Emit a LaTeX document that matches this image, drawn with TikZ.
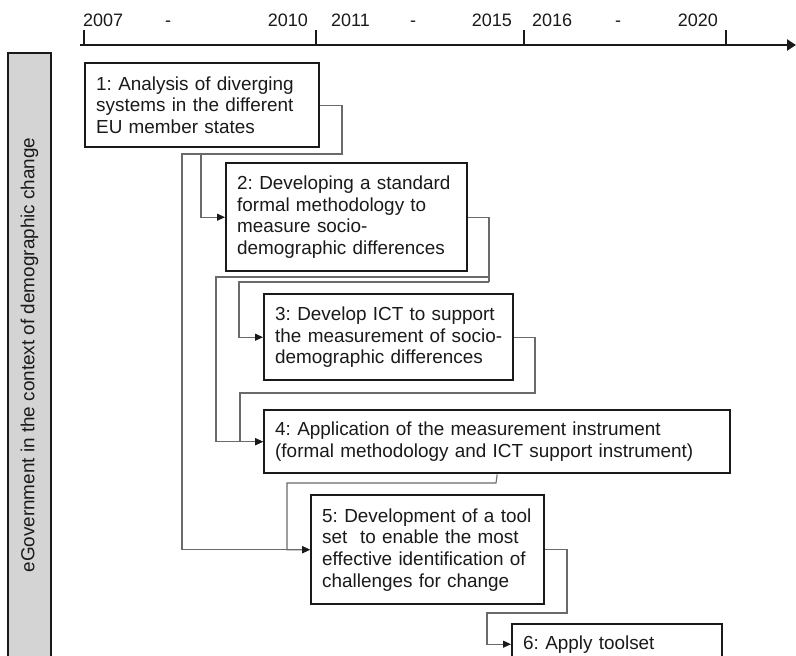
\documentclass[tikz,border=0pt]{standalone}
\usepackage{fontspec}
\setmainfont{Liberation Sans}
\usetikzlibrary{arrows.meta}
\definecolor{ink}{HTML}{1A1A1A}
\definecolor{wire}{HTML}{6A6A6A}
\definecolor{barfill}{HTML}{D4D4D4}
\begin{document}
\frenchspacing
\begin{tikzpicture}[x=1pt,y=-1pt,
  every node/.style={text=ink},
  boxfont/.style={font=\fontsize{18.9}{21.7}\selectfont},
  yearfont/.style={font=\fontsize{18}{20}\selectfont},
  taskbox/.style={boxfont, draw=ink, line width=2.4pt, fill=white,
    anchor=north west, inner xsep=11pt, inner ysep=0pt, align=left},
  conn/.style={draw=wire, line width=1.1pt,
    -{Triangle[length=8pt,width=7pt,color=ink]}},
  plainconn/.style={draw=wire, line width=1.1pt},
  tick/.style={draw=ink, line width=1.6pt},
  yearlabel/.style={yearfont, inner sep=0pt}]

\useasboundingbox (0,0) rectangle (796,656);
\clip (0,0) rectangle (796,656);
\fill[white] (0,0) rectangle (796,656);

% time axis with period ticks
\coordinate (axstart) at (80,45);
\coordinate (axend) at (796,45);
\draw[draw=ink, line width=2.8pt, -{Triangle[length=9pt,width=11pt]}] (axstart) -- (axend);
\foreach \tx in {84,316,524,726} \draw[tick] (\tx,30) -- (\tx,45);

\node[yearlabel, anchor=base west] (y2007) at (83,26) {2007};
\node[yearlabel, anchor=base] (d1) at (168,26) {-};
\node[yearlabel, anchor=base east] (y2010) at (308,26) {2010};
\node[yearlabel, anchor=base west] (y2011) at (331,26) {2011};
\node[yearlabel, anchor=base] (d2) at (413,26) {-};
\node[yearlabel, anchor=base east] (y2015) at (512,26) {2015};
\node[yearlabel, anchor=base west] (y2016) at (532,26) {2016};
\node[yearlabel, anchor=base] (d3) at (618,26) {-};
\node[yearlabel, anchor=base east] (y2020) at (718,26) {2020};

% side band
\draw[draw=ink, line width=2.2pt, fill=barfill] (8,53) rectangle (51,664);
\node[boxfont, rotate=90] (bartext) at (29.5,355)
  {eGovernment in the context of demographic change};

% work packages
\node[taskbox, minimum width=234, minimum height=84, text width=212] (b1) at (84,62)
  {1: Analysis of diverging\\systems in the different\\EU member states};
\node[taskbox, minimum width=241, minimum height=108, text width=219] (b2) at (225,162)
  {2: Developing a standard\\formal methodology to\\measure socio-\\demographic differences};
\node[taskbox, minimum width=249, minimum height=86, text width=227] (b3) at (263,293)
  {3: Develop ICT to support\\the measurement of socio-\\demographic differences};
\node[taskbox, minimum width=466, minimum height=63, text width=444] (b4) at (263,409)
  {4: Application of the measurement instrument\\(formal methodology and ICT support instrument)};
\node[taskbox, minimum width=233, minimum height=109, text width=211] (b5) at (310,494)
  {5: Development of a tool\\set\ \ to enable the most\\effective identification of\\challenges for change};
\node[taskbox, minimum width=210, minimum height=40, text width=188] (b6) at (511,623)
  {6: Apply toolset};

% dependencies
\draw[conn] (b1.east) -| (342,154) -- (182,154) |- (b5.west);
\draw[conn] (201,154) |- (b2.west);
\draw[conn] (b2.east) -| (489,277) -- (216,277) |- (b4.west);
\draw[plainconn] (489,276) -- (489,282);
\draw[conn] (489,282) -- (239,282) |- (b3.west);
\draw[conn] (b3.east) -| (535,393) -- (240,393) |- (b4.west);
\draw[conn] (b4.south) -- (496,483) -- (287,483) |- (b5.west);
\draw[conn] (b5.east) -| (567,613) -- (487,613) |- (b6.west);
\end{tikzpicture}
\end{document}
